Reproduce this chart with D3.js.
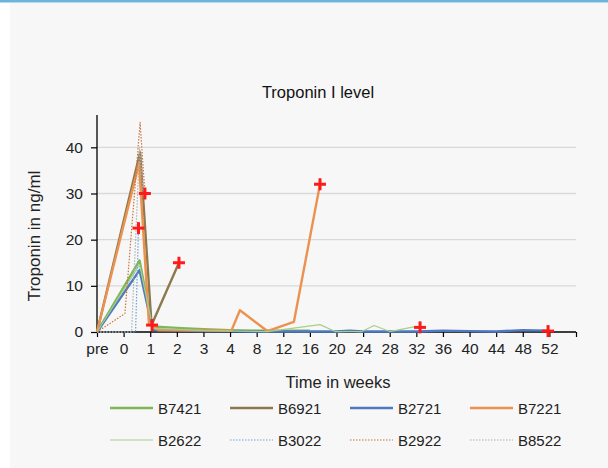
<!DOCTYPE html>
<html>
<head>
<meta charset="utf-8">
<script src="https://cdn.jsdelivr.net/npm/d3@7/dist/d3.min.js"></script>
<style>
  html, body { margin: 0; padding: 0; background: #ffffff; }
  svg { display: block; font-family: "Liberation Sans", Arial, sans-serif; }
</style>
</head>
<body>
<svg id="chart" width="608" height="468"></svg>
<script>
// Time axis: each label sits on an integer slot (pre = 0, week 0 = 1, ...)
const tickLabels = ["pre","0","1","2","3","4","8","12","16","20","24","28","32","36","40","44","48","52"];
const yTicks = [0, 10, 20, 30, 40];

const seriesNames = ["B7421","B6921","B2721","B7221","B2622","B3022","B2922","B8522"];

// [time slot, troponin ng/ml]
const B7421 = [[0,0],[1.6,15.5],[2.07,1.2],[3,0.9],[4,0.6],[5,0.4],[6,0.3],[7,0.3],[8,0.3]];
const B6921 = [[0,0],[1.62,38.9],[2.05,1.5],[3.08,15]];
const B2721 = [[0,0],[1.6,13.4],[2.1,0.4],[3,0.3],[4,0.2],[5,0.2],[6,0.1],[7,0.1],[8,0.1],[9,0.1],[9.5,0.3],[10,0.1],[11,0.1],[12,0.1],[13,0.3],[14,0.2],[15,0.1],[16,0.4],[16.95,0.3]];
const B7221 = [[0,0],[1.58,36.5],[1.95,2],[2.3,0.4],[5.05,0.3],[5.37,4.7],[6.4,0.2],[7.4,2.2],[8.38,32]];
const B2622 = [[0,0],[1.6,14.6],[2.1,0.8],[3,0.6],[4,0.3],[6.4,0.1],[8.38,1.6],[8.95,0.1],[9.95,0.1],[10.41,1.4],[11,0.1],[11.9,1.1],[12.14,0.9]];
const B3022 = [[0,0],[1.45,0],[1.56,22.5]];
const B2922 = [[0,0],[1.05,4],[1.62,45.4],[1.8,30]];
const B8522 = [[0,0],[1.3,0],[1.6,40],[1.75,29]];

// End-of-follow-up markers
const endPoints = [[1.8,30],[1.56,22.5],[2.07,1.5],[3.08,15],[8.38,32],[12.14,1],[16.95,0.2]];

const seriesData = [B7421, B6921, B2721, B7221, B2622, B3022, B2922, B8522];
const seriesStyle = [
  {color:"#7fb65a", width:2.4, dash:null},
  {color:"#8c7a4e", width:2.4, dash:null},
  {color:"#4f79c0", width:2.4, dash:null},
  {color:"#ec914f", width:2.4, dash:null},
  {color:"#a6cf8a", width:1.2, dash:null},
  {color:"#6aa6dc", width:1.2, dash:"1.5,1.5"},
  {color:"#c8733a", width:1.2, dash:"1.5,1.5"},
  {color:"#b0b0b0", width:1.2, dash:"1.5,1.5"}
];

const svg = d3.select("#chart");

// panel background and top rule
svg.append("rect").attr("x", 10).attr("y", 3).attr("width", 598).attr("height", 465).attr("fill", "#f7f7f7");
svg.append("rect").attr("x", 0).attr("y", 0).attr("width", 608).attr("height", 2.5).attr("fill", "#6db3de");

const plotLeft = 97, plotRight = 576, plotTop = 115, plotBottom = 332;
const x = d3.scaleLinear().domain([0, 18]).range([plotLeft, plotRight]);
const y = d3.scaleLinear().domain([0, 47]).range([plotBottom, plotTop]);

// horizontal gridlines
svg.append("g").selectAll("line").data(yTicks.filter(d => d > 0)).join("line")
  .attr("x1", plotLeft).attr("x2", plotRight)
  .attr("y1", d => y(d)).attr("y2", d => y(d))
  .attr("stroke", "#d9d9d9").attr("stroke-width", 1.3);

// y axis
const yAxis = svg.append("g").attr("transform", `translate(${plotLeft},0)`)
  .call(d3.axisLeft(y).tickValues(yTicks).tickSize(6).tickPadding(8));
yAxis.select(".domain").attr("stroke", "#000").attr("stroke-width", 1.3).attr("d", `M0,${plotTop}V${plotBottom}`);
yAxis.selectAll(".tick line").attr("stroke", "#000").attr("stroke-width", 1.2);
yAxis.selectAll(".tick text").attr("font-size", 15.5).attr("fill", "#222").attr("font-family", "Liberation Sans, Arial, sans-serif");

// x axis
const xAxis = svg.append("g").attr("transform", `translate(0,${plotBottom})`)
  .call(d3.axisBottom(x).tickValues(d3.range(0, 19)).tickSize(5).tickPadding(6)
    .tickFormat(i => tickLabels[i] || ""));
xAxis.select(".domain").attr("stroke", "#000").attr("stroke-width", 1.3).attr("d", `M${plotLeft},0H${plotRight}`);
xAxis.selectAll(".tick line").attr("stroke", "#000").attr("stroke-width", 1.2);
xAxis.selectAll(".tick text").attr("font-size", 15.5).attr("fill", "#222").attr("font-family", "Liberation Sans, Arial, sans-serif");

// series lines
const line = d3.line().x(d => x(d[0])).y(d => y(d[1]));
const plot = svg.append("g");
seriesData.forEach((pts, i) => {
  const s = seriesStyle[i];
  plot.append("path").datum(pts)
    .attr("d", line)
    .attr("fill", "none")
    .attr("stroke", s.color)
    .attr("stroke-width", s.width)
    .attr("stroke-linejoin", "round")
    .attr("stroke-dasharray", s.dash);
});

// red cross markers
svg.append("g").selectAll("g").data(endPoints).join("g")
  .attr("transform", d => `translate(${x(d[0])},${y(d[1])})`)
  .each(function() {
    const g = d3.select(this);
    g.append("line").attr("x1", -6).attr("x2", 6).attr("y1", 0).attr("y2", 0);
    g.append("line").attr("x1", 0).attr("x2", 0).attr("y1", -6).attr("y2", 6);
  })
  .selectAll("line").attr("stroke", "#ff1a1a").attr("stroke-width", 3);

// titles
svg.append("text").attr("x", 318).attr("y", 98).attr("text-anchor", "middle")
  .attr("font-size", 16.5).attr("fill", "#111").text("Troponin I level");
svg.append("text").attr("x", 338).attr("y", 388).attr("text-anchor", "middle")
  .attr("font-size", 16.5).attr("fill", "#222").text("Time in weeks");
svg.append("text").attr("transform", "translate(40,236) rotate(-90)").attr("text-anchor", "middle")
  .attr("font-size", 17).attr("fill", "#222").text("Troponin in ng/ml");

// legend: 4 columns x 2 rows
const legend = svg.append("g");
seriesNames.forEach((name, i) => {
  const col = i % 4, row = Math.floor(i / 4);
  const lx = 110 + col * 120, ly = 408 + row * 32;
  const s = seriesStyle[i];
  legend.append("line").attr("x1", lx).attr("x2", lx + 43).attr("y1", ly).attr("y2", ly)
    .attr("stroke", s.color).attr("stroke-width", s.width).attr("stroke-dasharray", s.dash);
  legend.append("text").attr("x", lx + 48).attr("y", ly + 5.5).attr("font-size", 15)
    .attr("fill", "#222").text(name);
});
</script>
</body>
</html>
